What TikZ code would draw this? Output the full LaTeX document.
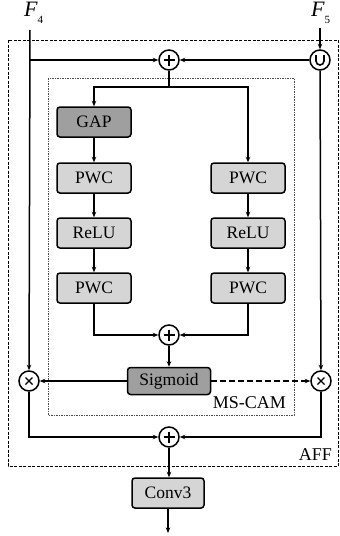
\documentclass[tikz,border=0pt]{standalone}
\usepackage{fontspec}
\setmainfont{Liberation Serif}
\usetikzlibrary{arrows.meta,calc}
\begin{document}
\begin{tikzpicture}[x=1pt,y=-1pt,
  line width=1.5pt,
  arr/.style={-{Stealth[length=5.5pt,width=4.5pt]}},
  blk/.style={draw, line width=1.5pt, rounded corners=3pt, fill=gray!33, minimum width=74pt, minimum height=30pt, inner sep=0pt, font=\fontsize{17.5}{17.5}\selectfont},
  dark/.style={blk, fill=gray!75},
  op/.style={draw, circle, line width=1.5pt, minimum size=20pt, inner sep=0pt, fill=white},
  lbl/.style={font=\fontsize{18}{18}\selectfont},
  sym/.style={line width=1.4pt}
]
\useasboundingbox (0,0) rectangle (340,536);

% frames
\draw[line width=1pt, dash pattern=on 3pt off 1.5pt] (8,40) rectangle (338,466);
\draw[line width=0.8pt, gray!60!black, dash pattern=on 1.5pt off 1pt] (48,78) rectangle (294,415);
\node[lbl, anchor=south east] (aff) at (336,465) {AFF};
\node[lbl, anchor=south east] (mscam) at (290,413) {MS-CAM};

% inputs
\node[font=\fontsize{22}{22}\selectfont\itshape, anchor=west] (f4) at (20,13) {F\raisebox{-7pt}{\fontsize{11}{11}\selectfont\upshape 4}};
\node[font=\fontsize{22}{22}\selectfont\itshape, anchor=west] (f5) at (307,13) {F\raisebox{-7pt}{\fontsize{11}{11}\selectfont\upshape 5}};
\coordinate (t4) at (30,30);
\coordinate (t5) at (320,28);

% operators
\node[op] (add1) at (169,60) {};
\draw[sym] ($(add1)+(-5.5,0)$) -- ($(add1)+(5.5,0)$) ($(add1)+(0,-5.5)$) -- ($(add1)+(0,5.5)$);
\node[op] (cat) at (320,60) {};
\draw[line width=1.6pt] ($(cat)+(-4,-5)$) -- ($(cat)+(-4,1)$) arc[start angle=180,end angle=360,radius=4pt] -- ($(cat)+(4,-5)$);
\node[op] (add2) at (169,335) {};
\draw[sym] ($(add2)+(-5.5,0)$) -- ($(add2)+(5.5,0)$) ($(add2)+(0,-5.5)$) -- ($(add2)+(0,5.5)$);
\node[op] (add3) at (169,437) {};
\draw[sym] ($(add3)+(-5.5,0)$) -- ($(add3)+(5.5,0)$) ($(add3)+(0,-5.5)$) -- ($(add3)+(0,5.5)$);
\node[op] (mul1) at (29,381) {};
\draw[sym] ($(mul1)+(-3.5,-3.5)$) -- ($(mul1)+(3.5,3.5)$) ($(mul1)+(-3.5,3.5)$) -- ($(mul1)+(3.5,-3.5)$);
\node[op] (mul2) at (321,381) {};
\draw[sym] ($(mul2)+(-3.5,-3.5)$) -- ($(mul2)+(3.5,3.5)$) ($(mul2)+(-3.5,3.5)$) -- ($(mul2)+(3.5,-3.5)$);

% blocks
\node[dark] (gap) at (94,122) {GAP};
\node[blk] (pwc1) at (94,178) {PWC};
\node[blk] (relu1) at (94,233) {ReLU};
\node[blk] (pwc2) at (94,288) {PWC};
\node[blk] (pwc3) at (248,178) {PWC};
\node[blk] (relu2) at (248,233) {ReLU};
\node[blk] (pwc4) at (248,288) {PWC};
\node[dark, minimum width=83pt, minimum height=27pt] (sig) at (169,381) {Sigmoid};
\node[blk, minimum width=72pt] (conv) at (168,493) {Conv3};
\coordinate (out) at (168,533);

% connectors
\draw[arr] (t4) -- (mul1);
\draw[arr] (t4 |- add1) -- (add1);
\draw[arr] (t5) -- (cat);
\draw[arr] (cat) -- (add1);
\draw[arr] (cat) -- (mul2);
\draw[arr] (add1.south) |- (94,87) -- (gap.north);
\draw[arr] (add1.south) |- (248,87) -- (pwc3.north);
\draw[arr] (gap) -- (pwc1);
\draw[arr] (pwc1) -- (relu1);
\draw[arr] (relu1) -- (pwc2);
\draw[arr] (pwc3) -- (relu2);
\draw[arr] (relu2) -- (pwc4);
\draw[arr] (pwc2.south) |- (add2);
\draw[arr] (pwc4.south) |- (add2);
\draw[arr] (add2) -- (sig);
\draw[arr] (sig) -- (mul1);
\draw[arr, dash pattern=on 6pt off 3pt] (sig) -- (mul2);
\draw[arr] (mul1) |- (add3);
\draw[arr] (mul2) |- (add3);
\draw[arr] (add3) -- (conv.north -| add3);
\draw[arr] (conv.south -| out) -- (out);
\end{tikzpicture}
\end{document}
